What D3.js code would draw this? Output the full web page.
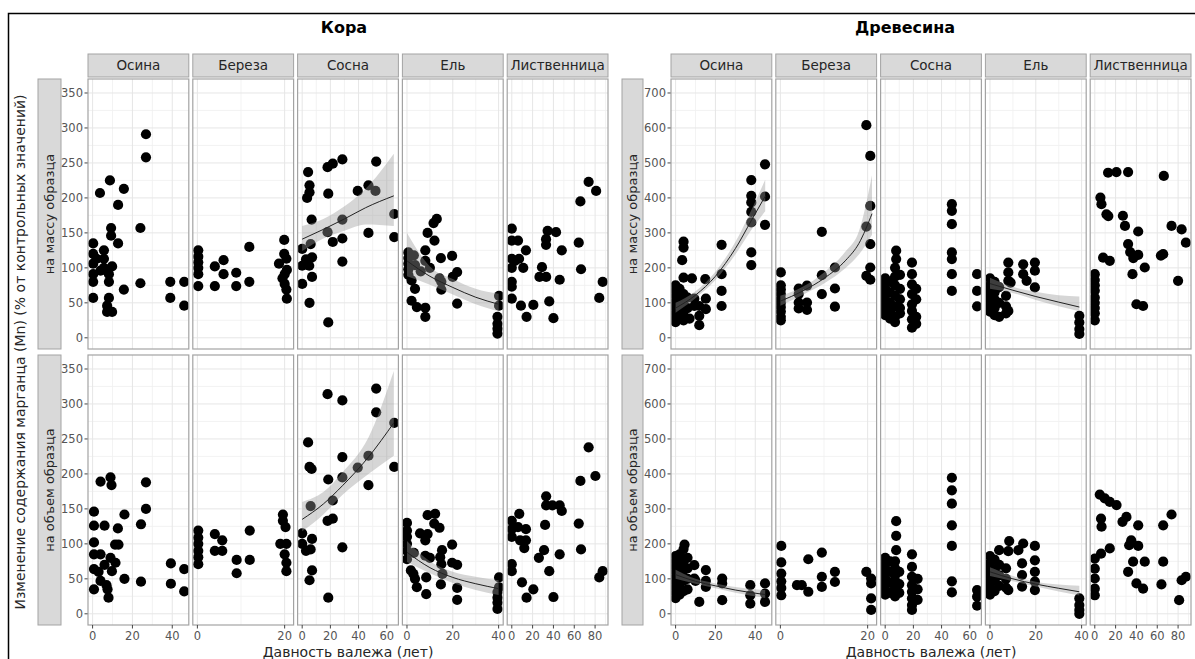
<!DOCTYPE html>
<html><head><meta charset="utf-8">
<script src="https://cdn.jsdelivr.net/npm/d3@7"></script>
<style>
body{margin:0;background:#fff;}
text{font-family:"DejaVu Sans",sans-serif;}
</style></head><body>
<svg id="chart" width="1195" height="659"></svg>
<script>
// ---- facet labels and axes ----
const species = ["Осина", "Береза", "Сосна", "Ель", "Лиственница"];
const rowLabels = ["на массу образца", "на объем образца"];
const speciesXMax = [46, 21, 65, 40, 88];
const speciesXTicks = [[0, 20, 40], [0, 20], [0, 20, 40, 60], [0, 20, 40], [0, 20, 40, 60, 80]];
const barkYTicks = [0, 50, 100, 150, 200, 250, 300, 350];
const woodYTicks = [0, 100, 200, 300, 400, 500, 600, 700];

// ---- Кора, на массу образца: [давность, %] ----
const koraMassAspen = [[26.8,291],[26.8,258],[8.7,225],[3.7,207],[15.7,213],[12.8,190],[9.3,157],[9.3,146],[12.8,135],[24,157],[0.3,135],[0.3,120],[5.7,125],[0.3,106],[5.7,113],[9.8,102],[0.3,91],[4,96],[8.2,91],[0.3,80],[8.2,80],[15.7,69],[24,78],[0.3,57],[8.2,57],[7.3,46],[7.3,37],[9.8,37],[39,80],[46,80],[39,57],[46,46],[5.7,100],[2,113]];
const koraMassBirch = [[0.2,125],[0.2,116],[0.2,108],[0.2,100],[0.2,91],[0.2,74],[4,102],[6,111],[6,91],[4,74],[8.9,93],[8.9,74],[11.9,130],[11.9,80],[19.9,140],[19.9,120],[20.4,113],[18.7,106],[20.5,97],[20,91],[20,77],[20.4,69],[20.5,56],[19.5,85]];
const koraMassPine = [[4.2,237],[5.2,218],[5.2,208],[3.5,200],[18,244],[21.7,249],[28.5,255],[18.5,206],[52.5,252],[39.4,210],[47,218],[52,210],[6.7,169],[28.5,169],[18,151],[65.3,177],[47,150],[65.3,144],[21.7,137],[28.5,142],[0,127],[6,134],[7,115],[0,103],[5,103],[7,87],[0,77],[28.5,109],[5.2,50],[18.5,22],[2.7,112]];
const koraMassSpruce = [[13,170],[11.6,164],[9,150],[12,139],[8,125],[0.6,122],[0.6,114],[0.6,106],[0.6,98],[0.6,90],[3,118],[3.5,104],[8,110],[10,100],[14.8,114],[19.7,117],[21.9,94],[20,87],[14.2,85],[15,80],[15,69],[21.9,49],[3.5,70],[2,53],[4.3,44],[8,43],[8,30],[40.2,60],[40.2,46],[39.5,30],[39.5,20],[39.5,13],[39.5,6],[2,82],[6,95]];
const koraMassLarch = [[73.8,223],[81,210],[65.9,195],[64.3,136],[66.5,98],[87.3,80],[84,57],[0,156],[0,139],[6,139],[13.6,125],[0,113],[3,110],[11,100],[0,100],[0,80],[0,73],[0,56],[8.8,46],[20.7,47],[14.2,30],[34.4,153],[42.5,151],[32.9,141],[32.9,133],[48,125],[29,101],[26.6,87],[33,87],[46,83],[36,52],[40,28],[7,113]];

// ---- Кора, на объем образца ----
const koraVolAspen = [[0.7,146],[0.7,126],[0.7,102],[0.7,85],[0.7,64],[0.7,35],[4,189],[6,126],[4,85],[4,47],[7,41],[7.5,35],[8,23],[9,195],[9.5,184],[9,80],[11.5,73],[9.7,61],[13,99],[11.3,99],[12.7,122],[16,142],[16,50],[24.3,128],[24.3,46],[26.8,188],[26.8,150],[39.3,72],[39.3,43],[46,64],[46,32],[6,70],[3,60]];
const koraVolBirch = [[0.2,119],[0.2,109],[0.2,100],[0.2,90],[0.2,81],[0.2,71],[4,114],[5.7,105],[4,90],[5.7,90],[9,77],[9,58],[12,119],[12,77],[19.6,142],[19.6,133],[20.2,124],[19,100],[20.4,100],[20,85],[20.4,73],[20.4,61]];
const koraVolPine = [[18,314],[28.5,305],[52.5,322],[52.5,288],[65.3,273],[65.3,210],[47,184],[47,226],[39.4,209],[28.5,224],[28.5,195],[18.5,192],[4.2,245],[5.2,210],[6.7,207],[6,154],[21.7,162],[18,133],[21.7,136],[28.5,95],[0,115],[0,100],[2.7,90],[7,107],[6,92],[7,62],[5.2,48],[18.5,23]];
const koraVolSpruce = [[0,130],[0,119],[0,110],[0,100],[0,90],[0,78],[2.8,57],[3.5,50],[4.3,38],[1.7,62],[8.4,52],[8.4,28],[9,141],[12.3,143],[11.9,129],[14.2,123],[5.7,115],[9,114],[8,105],[3,87],[8,83],[10,80],[15.3,91],[14.5,81],[15,71],[15.5,57],[14.8,42],[19.7,99],[19.7,73],[21.9,70],[21.9,37],[21.9,20],[40.2,52],[40.2,38],[39.5,31],[39.5,23],[39.5,16],[39.5,7]];
const koraVolLarch = [[73.8,238],[80.3,197],[65.9,190],[64.3,129],[66.5,92],[87.3,61],[84,52],[33,168],[33,155],[39,155],[46,155],[48,147],[32,127],[31,91],[26,80],[46,85],[36,61],[40,24],[7.2,143],[0,133],[0,121],[0,110],[6,124],[13.6,121],[8,105],[13.6,105],[12,94],[0,71],[0,61],[9.8,45],[20.7,35],[14.2,23]];

// ---- Древесина, на массу образца ----
const woodMassAspen = [[44.9,496],[38,451],[38,406],[38,387],[44.9,404],[38,360],[38,330],[44.9,323],[38,244],[38,208],[23.1,266],[23.1,182],[23.1,134],[23.1,91],[4,275],[4,258],[3.3,222],[4,172],[8.2,170],[14.9,168],[0,150],[0,135],[0,120],[0,105],[0,95],[0,85],[0,70],[0,55],[0,45],[2,140],[2,110],[2,80],[2,60],[4,125],[4,95],[4,65],[4,50],[6,115],[6,85],[9.4,91],[11.9,91],[15.2,112],[15.2,82],[11.9,63],[11.9,36],[9.4,112],[7,55]];
const woodMassBirch = [[19.7,608],[20.6,520],[20.6,377],[19.7,318],[20.6,268],[20.6,201],[19.7,177],[20.6,166],[9.5,303],[9.5,179],[9.5,125],[12.5,201],[12.5,141],[12.5,89],[0.1,187],[0.1,150],[0.1,138],[0.1,125],[0.1,112],[0.1,100],[0.1,88],[0.1,75],[0.1,60],[0.1,50],[4.2,141],[6.1,149],[4.2,125],[4.2,101],[4.2,84],[6.1,101],[6.1,80]];
const woodMassPine = [[7.8,249],[7.8,225],[0,170],[0,155],[0,140],[0,125],[0,110],[0,95],[0,80],[0,65],[3.5,160],[3.5,130],[3.5,100],[3.5,75],[3.5,55],[7,200],[7,175],[7,150],[7,120],[7,90],[7,60],[7,45],[10.5,180],[10.5,140],[10.5,110],[10.5,85],[10.5,70],[19,215],[19,182],[19,153],[19,125],[19,96],[19,77],[19,53],[19,29],[22,140],[22,110],[22,60],[22,40],[47.3,382],[47.3,363],[47.3,325],[47.3,244],[47.3,225],[47.3,182],[47.3,134],[65.2,182],[65.2,134],[65.2,90]];
const woodMassSpruce = [[8,215],[14.5,210],[19.6,215],[8,187],[8,163],[9,158],[14.5,182],[16,163],[19.6,192],[19.6,144],[0,170],[0,150],[0,135],[0,120],[0,105],[0,90],[0,75],[2,160],[2,130],[2,110],[2,85],[2,65],[4,145],[4,100],[4,60],[7,120],[7,90],[7,70],[8,77],[39,63],[39,44],[39,25],[39,11]];
const woodMassLarch = [[12.8,472],[20.8,474],[32,474],[66.3,463],[5.4,401],[6.4,382],[11.2,353],[13,348],[27,349],[29,320],[41.7,304],[32,268],[34,245],[41.7,237],[37,228],[48,201],[36.2,182],[73.7,320],[83.4,310],[87.5,272],[65.7,239],[63.5,235],[80,163],[8,229],[14.4,220],[40,96],[46.4,91],[0,182],[0,165],[0,150],[0,135],[0,115],[0,100],[0,85],[0,70],[0,50]];

// ---- Древесина, на объем образца ----
const woodVolAspen = [[4.5,198],[0,165],[0,150],[0,135],[0,120],[0,105],[0,90],[0,75],[0,60],[0,45],[2,170],[2,140],[2,110],[2,80],[2,55],[4,185],[4,150],[4,125],[4,95],[4,65],[6,160],[6,130],[6,100],[6,70],[9.4,139],[9.4,101],[10,94],[11.9,34],[15.2,125],[15.2,94],[15.2,77],[23.4,101],[23.4,87],[23.4,39],[37.5,82],[37.5,53],[37.5,29],[44.9,87],[44.9,58],[44.9,34]];
const woodVolBirch = [[0.2,194],[0.2,147],[0.2,115],[0.2,93],[0.2,74],[0.2,53],[3.8,82],[4.9,82],[6.4,63],[6.4,156],[9.5,175],[9.5,106],[9.5,77],[12.5,120],[12.5,91],[19.7,120],[20.8,101],[20.8,87],[20.8,44],[20.8,11]];
const woodVolPine = [[7.8,265],[7.8,223],[7.8,182],[0,160],[0,145],[0,130],[0,115],[0,100],[0,85],[0,70],[0,55],[3.5,150],[3.5,120],[3.5,90],[3.5,60],[7,150],[7,130],[7,110],[7,95],[7,75],[7,50],[10,120],[10,85],[10,60],[19,170],[19,134],[19,106],[19,82],[19,63],[19,44],[19,25],[19,11],[23,100],[23,70],[23,40],[47.3,389],[47.3,353],[47.3,315],[47.3,253],[47.3,194],[47.3,93],[47.3,61],[65.2,68],[65.2,49],[65.2,23]];
const woodVolSpruce = [[8.4,208],[14.5,201],[19.6,194],[4,182],[8,179],[12.4,182],[19.6,153],[19.6,120],[19.6,92],[19.6,68],[14,144],[14,111],[14,78],[0,165],[0,145],[0,130],[0,115],[0,100],[0,85],[0,70],[0,55],[2,155],[2,125],[2,95],[2,65],[4,140],[4,110],[4,80],[7,130],[7,100],[7,75],[8,68],[39,44],[39,25],[39,11],[39,0]];
const woodVolLarch = [[4.8,341],[9.6,330],[14.4,320],[20.9,311],[6,272],[6.5,249],[14.4,187],[6,172],[0,158],[0,129],[0,101],[0,72],[0,53],[26.6,263],[30.4,277],[41.7,253],[35,210],[33,196],[41.7,194],[36.8,149],[48,149],[32,120],[40,87],[46.4,72],[65.7,253],[73.7,284],[65.7,149],[64,84],[81,39],[83.4,96],[87.5,106]];

// ---- smoothed trends: [давность, оценка, нижняя граница, верхняя граница] ----
const koraMassPineFit = [[0,141,124,160],[15,155,142,170],[30,170,153,188],[45,186,162,213],[65,203,160,263]];
const koraMassSpruceFit = [[0,110,88,150],[10,88,76,102],[20,72,62,84],[30,58,48,70],[40,48,38,63]];
const koraVolPineFit = [[0,135,118,160],[15,157,142,174],[28.5,183,170,202],[47,224,200,252],[65,273,226,347]];
const koraVolSpruceFit = [[0,88,74,104],[10,66,58,75],[20,52,44,60],[30,43,34,53],[40,36,27,48]];
const woodMassAspenFit = [[0,85,72,100],[10,122,113,133],[20,176,165,189],[30,255,238,274],[38,335,308,365],[45,405,362,452]];
const woodMassBirchFit = [[0,105,92,120],[5,133,122,145],[10,170,155,187],[15,222,200,248],[18,270,238,305],[21,355,295,465]];
const woodMassSpruceFit = [[0,155,140,172],[10,136,128,146],[20,118,108,132],[30,102,90,122],[39,88,76,118]];
const woodVolAspenFit = [[0,112,100,126],[10,93,86,100],[20,80,73,87],[30,68,60,77],[45,55,45,68]];
const woodVolSpruceFit = [[0,120,108,133],[10,100,93,108],[20,85,78,92],[30,73,64,84],[39,63,52,80]];

// ---- layout ----
const W = 1195, H = 659;
const rowBands = [[79, 349], [355, 625]];
const stripTop = 54, stripBottom = 77;
const gap = 4;

const groups = [
  { title: "Кора", titleX: 344, x0: 88, x1: 608, stripX: 38, stripW: 23,
    yDomain: [-16, 370], yTicks: barkYTicks,
    rows: [[koraMassAspen, koraMassBirch, koraMassPine, koraMassSpruce, koraMassLarch],
           [koraVolAspen, koraVolBirch, koraVolPine, koraVolSpruce, koraVolLarch]],
    fits: [[null, null, koraMassPineFit, koraMassSpruceFit, null],
           [null, null, koraVolPineFit, koraVolSpruceFit, null]] },
  { title: "Древесина", titleX: 905, x0: 671, x1: 1191, stripX: 622, stripW: 21,
    yDomain: [-32, 740], yTicks: woodYTicks,
    rows: [[woodMassAspen, woodMassBirch, woodMassPine, woodMassSpruce, woodMassLarch],
           [woodVolAspen, woodVolBirch, woodVolPine, woodVolSpruce, woodVolLarch]],
    fits: [[woodMassAspenFit, woodMassBirchFit, null, woodMassSpruceFit, null],
           [woodVolAspenFit, null, null, woodVolSpruceFit, null]] }
];

const svg = d3.select("#chart");
svg.append("rect").attr("width", W).attr("height", H).attr("fill", "#fff");
svg.append("rect").attr("x", 8.5).attr("y", 13.5).attr("width", W).attr("height", H)
  .attr("fill", "none").attr("stroke", "#000").attr("stroke-width", 1.5);

function minorBreaks(ticks, domain) {
  const step = ticks.length > 1 ? ticks[1] - ticks[0] : 20;
  const out = [];
  for (let v = ticks[0] - step / 2; v <= ticks[ticks.length - 1] + step / 2; v += step) {
    if (v > domain[0] && v < domain[1]) out.push(v);
  }
  return out;
}

let clipId = 0;
const borderCol = "#a3a3a3";

groups.forEach(g => {
  const pw = (g.x1 - g.x0 - 4 * gap) / 5;

  svg.append("text").attr("x", g.titleX).attr("y", 33).attr("text-anchor", "middle")
    .attr("font-size", 16).attr("font-weight", "bold").attr("fill", "#000").text(g.title);

  species.forEach((sp, ci) => {
    const px = g.x0 + ci * (pw + gap);
    // column strip
    svg.append("rect").attr("x", px).attr("y", stripTop).attr("width", pw).attr("height", stripBottom - stripTop)
      .attr("fill", "#d9d9d9").attr("stroke", borderCol).attr("stroke-width", 1);
    svg.append("text").attr("x", px + pw / 2).attr("y", (stripTop + stripBottom) / 2).attr("dy", "0.36em")
      .attr("text-anchor", "middle").attr("font-size", 13.5).attr("fill", "#262626").text(sp);
  });

  g.rows.forEach((rowData, ri) => {
    const [ry0, ry1] = rowBands[ri];
    const y = d3.scaleLinear().domain(g.yDomain).range([ry1, ry0]);

    // row strip
    svg.append("rect").attr("x", g.stripX).attr("y", ry0).attr("width", g.stripW).attr("height", ry1 - ry0)
      .attr("fill", "#d9d9d9").attr("stroke", borderCol).attr("stroke-width", 1);
    svg.append("text").attr("transform", `translate(${g.stripX + g.stripW / 2},${(ry0 + ry1) / 2}) rotate(-90)`)
      .attr("dy", "0.36em").attr("text-anchor", "middle").attr("font-size", 13).attr("fill", "#262626")
      .text(rowLabels[ri]);

    // y axis
    const yAxis = svg.append("g");
    g.yTicks.forEach(t => {
      yAxis.append("line").attr("x1", g.x0 - 3.5).attr("x2", g.x0).attr("y1", y(t)).attr("y2", y(t))
        .attr("stroke", "#444").attr("stroke-width", 1);
      yAxis.append("text").attr("x", g.x0 - 5).attr("y", y(t)).attr("dy", "0.36em").attr("text-anchor", "end")
        .attr("font-size", 11.5).attr("fill", "#555").text(t);
    });

    species.forEach((sp, ci) => {
      const px = g.x0 + ci * (pw + gap);
      const xm = speciesXMax[ci];
      const x = d3.scaleLinear().domain([-0.05 * xm, 1.05 * xm]).range([px, px + pw]);
      const panel = svg.append("g");
      const id = "clip" + (clipId++);
      svg.append("clipPath").attr("id", id).append("rect")
        .attr("x", px).attr("y", ry0).attr("width", pw).attr("height", ry1 - ry0);

      panel.append("rect").attr("x", px).attr("y", ry0).attr("width", pw).attr("height", ry1 - ry0).attr("fill", "#fff");

      const grid = panel.append("g");
      minorBreaks(g.yTicks, g.yDomain).forEach(v => grid.append("line")
        .attr("x1", px).attr("x2", px + pw).attr("y1", y(v)).attr("y2", y(v)).attr("stroke", "#f0f0f0").attr("stroke-width", 0.8));
      minorBreaks(speciesXTicks[ci], x.domain()).forEach(v => grid.append("line")
        .attr("y1", ry0).attr("y2", ry1).attr("x1", x(v)).attr("x2", x(v)).attr("stroke", "#f0f0f0").attr("stroke-width", 0.8));
      g.yTicks.forEach(v => grid.append("line")
        .attr("x1", px).attr("x2", px + pw).attr("y1", y(v)).attr("y2", y(v)).attr("stroke", "#e6e6e6").attr("stroke-width", 1));
      speciesXTicks[ci].forEach(v => grid.append("line")
        .attr("y1", ry0).attr("y2", ry1).attr("x1", x(v)).attr("x2", x(v)).attr("stroke", "#e6e6e6").attr("stroke-width", 1));

      const inner = panel.append("g").attr("clip-path", `url(#${id})`);
      inner.selectAll("circle").data(rowData[ci]).join("circle")
        .attr("cx", d => x(d[0])).attr("cy", d => y(d[1])).attr("r", 5.1).attr("fill", "#000");

      const fit = g.fits[ri][ci];
      if (fit) {
        const band = d3.area().x(d => x(d[0])).y0(d => y(d[2])).y1(d => y(d[3])).curve(d3.curveMonotoneX);
        const line = d3.line().x(d => x(d[0])).y(d => y(d[1])).curve(d3.curveMonotoneX);
        inner.append("path").attr("d", band(fit)).attr("fill", "#999").attr("fill-opacity", 0.4);
        inner.append("path").attr("d", line(fit)).attr("fill", "none").attr("stroke", "#222").attr("stroke-width", 1);
      }

      panel.append("rect").attr("x", px).attr("y", ry0).attr("width", pw).attr("height", ry1 - ry0)
        .attr("fill", "none").attr("stroke", borderCol).attr("stroke-width", 1.2);

      // x axis on the bottom row
      if (ri === 1) {
        speciesXTicks[ci].forEach(t => {
          svg.append("line").attr("x1", x(t)).attr("x2", x(t)).attr("y1", ry1).attr("y2", ry1 + 3.5)
            .attr("stroke", "#444").attr("stroke-width", 1);
          svg.append("text").attr("x", x(t)).attr("y", 640).attr("text-anchor", "middle")
            .attr("font-size", 11.5).attr("fill", "#555").text(t);
        });
      }
    });
  });

  svg.append("text").attr("x", (g.x0 + g.x1) / 2).attr("y", 657).attr("text-anchor", "middle")
    .attr("font-size", 14).attr("fill", "#262626").text("Давность валежа (лет)");
});

svg.append("text").attr("transform", "translate(25,352) rotate(-90)").attr("text-anchor", "middle")
  .attr("font-size", 14).attr("fill", "#262626")
  .text("Изменение содержания марганца (Mn) (% от контрольных значений)");
</script></body></html>
